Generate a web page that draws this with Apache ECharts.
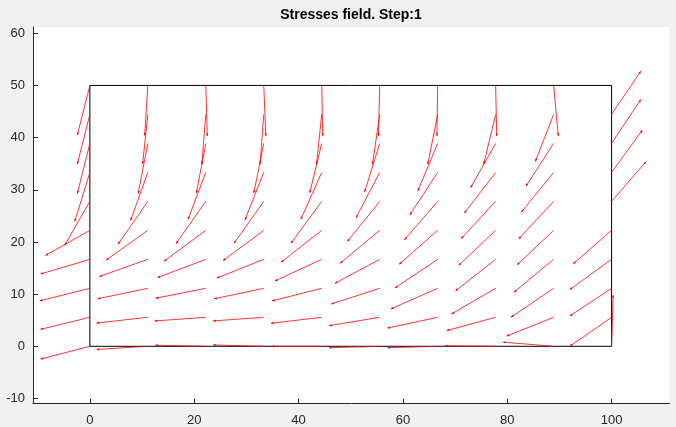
<!DOCTYPE html>
<html>
<head>
<meta charset="utf-8">
<script src="https://cdn.jsdelivr.net/npm/echarts@6/dist/echarts.min.js"></script>
<style>
html,body{margin:0;padding:0;background:#f0f0f0;}
#chart{width:676px;height:427px;}
</style>
</head>
<body>
<div id="chart"></div>
<script>
// Grid node positions
const gridX = [0, 11.11, 22.22, 33.33, 44.44, 55.56, 66.67, 77.78, 88.89, 100];
const gridY = [0, 5.56, 11.11, 16.67, 22.22, 27.78, 33.33, 38.89, 44.44, 50];

// Vector components per column (index = column in gridX), rows bottom -> top (gridY)
const U = [
  [-9.45, -9.45, -9.6, -9.4, -8.5, -4.8, -2.9, -2.4, -2.4, -2.4],
  [-9.8, -9.8, -9.6, -9.3, -8.0, -5.7, -3.3, -1.85, -1.0, -0.6],
  [-9.7, -9.8, -9.6, -9.25, -8.0, -5.7, -3.4, -1.8, -0.75, 0.3],
  [-9.7, -9.7, -9.5, -9.0, -7.8, -5.7, -3.6, -1.9, -0.7, 0.4],
  [-9.6, -9.75, -9.5, -8.95, -7.8, -5.9, -4.0, -2.3, -1.0, 0.2],
  [-9.7, -9.7, -9.3, -8.6, -7.6, -6.2, -4.55, -2.9, -1.4, -0.25],
  [-9.6, -9.6, -9.0, -8.2, -7.4, -6.4, -5.35, -3.8, -1.9, -0.15],
  [-9.7, -9.4, -8.45, -7.7, -7.1, -6.6, -6.0, -4.8, -2.3, 0.2],
  [-9.7, -9.0, -8.2, -7.6, -7.0, -6.7, -6.2, -5.3, -3.5, 0.9],
  [0.3, -8.0, -8.0, -8.0, -7.35, 6.6, 5.9, 5.6, 5.6, 0]
];
const V = [
  [-2.45, -2.3, -2.4, -2.8, -4.8, -8.4, -9.4, -9.6, -9.5, -9.5],
  [-0.6, -1.1, -2.0, -3.3, -5.7, -8.2, -9.2, -9.6, -9.5, -9.6],
  [0.2, -0.7, -1.9, -3.5, -5.9, -8.1, -9.0, -9.5, -9.5, -9.7],
  [0.25, -0.7, -2.0, -3.6, -5.8, -8.05, -9.1, -9.5, -9.55, -9.7],
  [0, -1.15, -2.4, -4.15, -6.1, -8.05, -9.0, -9.5, -9.55, -9.7],
  [-0.27, -1.6, -3.0, -4.6, -6.3, -7.7, -8.7, -9.3, -9.55, -9.7],
  [-0.27, -2.05, -3.95, -5.5, -6.5, -7.4, -8.15, -9.1, -9.55, -9.7],
  [0.1, -2.55, -4.9, -6.05, -6.7, -7.15, -7.8, -8.5, -9.55, -9.7],
  [0.8, -3.6, -5.55, -6.3, -6.6, -7.2, -7.65, -8.2, -9.0, -9.7],
  [9.8, -5.56, -5.3, -5.8, -6.4, 7.6, 8.1, 8.4, 8.3, 0]
];

// Body outline [xmin, ymin, xmax, ymax]
const bodyBox = [0, 0, 100, 50];

const xTicks = [0, 20, 40, 60, 80, 100];
const yTicks = [-10, 0, 10, 20, 30, 40, 50, 60];
const titleText = 'Stresses field. Step:1';

const arrowData = [];
for (let i = 0; i < gridX.length; i++) {
  for (let j = 0; j < gridY.length; j++) {
    arrowData.push([gridX[i], gridY[j], U[i][j], V[i][j]]);
  }
}

const chart = echarts.init(document.getElementById('chart'), null, {renderer: 'canvas'});
const axisColor = '#262626';
const fontFamily = '"Liberation Sans", Arial, Helvetica, sans-serif';

chart.setOption({
  animation: false,
  backgroundColor: '#f0f0f0',
  title: {
    text: titleText,
    left: 351,
    top: 8,
    padding: 0,
    textAlign: 'center',
    textStyle: {fontSize: 14, fontWeight: 'bold', color: '#000', fontFamily: fontFamily}
  },
  grid: {
    left: 33, top: 27, right: 6.5, bottom: 23.3,
    show: true, backgroundColor: '#ffffff', borderWidth: 0
  },
  xAxis: {
    type: 'value', min: -10.9, max: 111.1,
    axisLine: {show: true, onZero: false, lineStyle: {color: axisColor, width: 1}},
    axisTick: {show: true, inside: true, length: 5, customValues: xTicks, lineStyle: {color: axisColor}},
    axisLabel: {customValues: xTicks, margin: 10, color: axisColor, fontSize: 13, fontFamily: fontFamily},
    splitLine: {show: false}
  },
  yAxis: {
    type: 'value', min: -11.0, max: 61.2,
    axisLine: {show: true, onZero: false, lineStyle: {color: axisColor, width: 1}},
    axisTick: {show: true, inside: true, length: 5, customValues: yTicks, lineStyle: {color: axisColor}},
    axisLabel: {customValues: yTicks, margin: 8, color: axisColor, fontSize: 13, fontFamily: fontFamily},
    splitLine: {show: false}
  },
  series: [
    {
      type: 'custom',
      silent: true,
      data: [bodyBox],
      renderItem: function (params, api) {
        const p0 = api.coord([api.value(0), api.value(1)]);
        const p1 = api.coord([api.value(2), api.value(3)]);
        return {
          type: 'rect',
          shape: {x: p0[0], y: p1[1], width: p1[0] - p0[0], height: p0[1] - p1[1]},
          style: {fill: 'none', stroke: '#000', lineWidth: 1}
        };
      }
    },
    {
      type: 'custom',
      silent: true,
      data: arrowData,
      renderItem: function (params, api) {
        const x = api.value(0), y = api.value(1), u = api.value(2), v = api.value(3);
        const p0 = api.coord([x, y]);
        const p1 = api.coord([x + u, y + v]);
        const dx = p1[0] - p0[0], dy = p1[1] - p0[1];
        const len = Math.sqrt(dx * dx + dy * dy);
        if (len < 0.5) return null;
        const ux = dx / len, uy = dy / len;
        const hl = 2.6, hw = 1.2;
        const bx = p1[0] - ux * hl, by = p1[1] - uy * hl;
        return {
          type: 'group',
          children: [
            {type: 'line', shape: {x1: p0[0], y1: p0[1], x2: p1[0], y2: p1[1]},
             style: {stroke: '#ff0000', lineWidth: 0.8}},
            {type: 'polygon', shape: {points: [[p1[0], p1[1]], [bx - uy * hw, by + ux * hw], [bx + uy * hw, by - ux * hw]]},
             style: {fill: '#ff0000'}}
          ]
        };
      }
    }
  ]
});
</script>
</body>
</html>
